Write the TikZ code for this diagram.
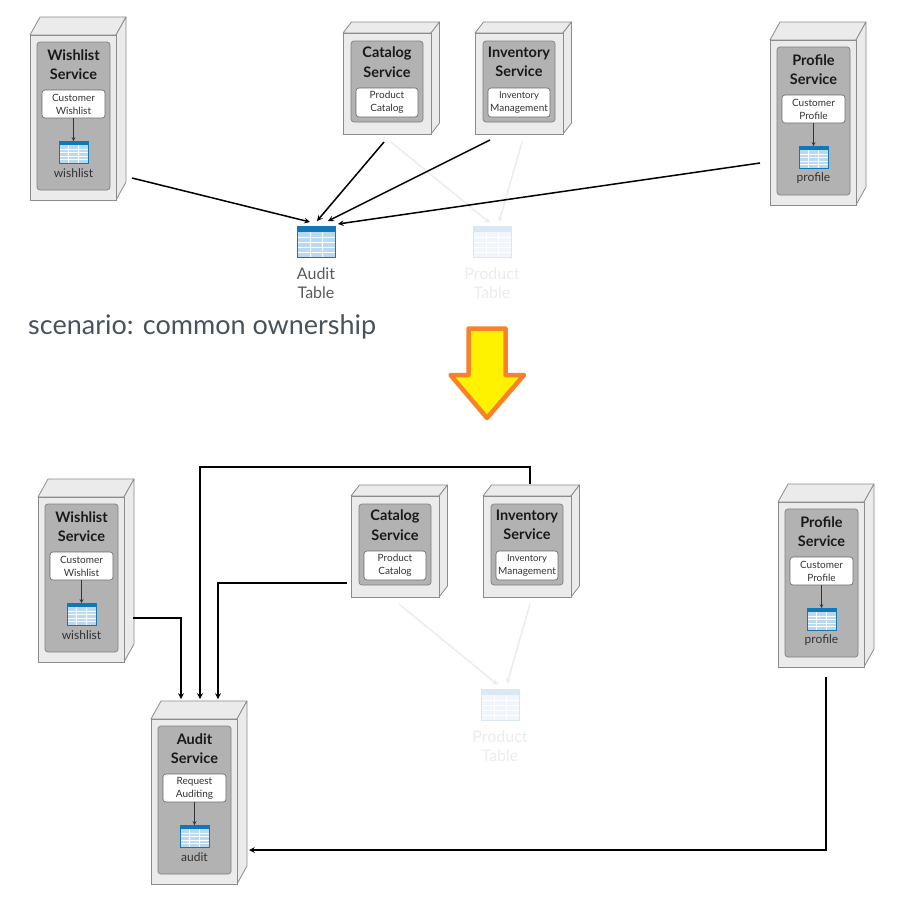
\documentclass[tikz,border=0pt]{standalone}
\usepackage{xcolor}
\usepackage{fontspec}
\setmainfont{Lato}
\usetikzlibrary{arrows,positioning,calc}
\definecolor{boxface}{RGB}{235,235,235}
\definecolor{boxedge}{RGB}{140,140,140}
\definecolor{innerface}{RGB}{178,178,178}
\definecolor{tableblue}{RGB}{15,120,184}
\definecolor{tablecell}{RGB}{185,218,238}
\definecolor{fadeblue}{RGB}{217,232,244}
\definecolor{fadecell}{RGB}{240,246,251}
\definecolor{fadeline}{RGB}{236,236,236}
\definecolor{captiongray}{RGB}{72,82,92}
\definecolor{arroworange}{RGB}{247,130,40}
\definecolor{arrowyellow}{RGB}{255,242,0}

\tikzset{
    shell/.style={rectangle, draw=boxedge, fill=boxface, line width=0.8pt, inner sep=0pt, outer sep=0pt, anchor=north west},
    inner/.style={rectangle, draw=gray, fill=innerface, line width=0.7pt, rounded corners=3pt, inner sep=0pt, outer sep=0pt, anchor=north west},
    module/.style={rectangle, draw=black!60, fill=white, line width=0.6pt, rounded corners=3pt, inner sep=0pt, outer sep=0pt, anchor=north west, align=center, font=\fontsize{10}{13}\selectfont, text=black!80},
    title/.style={align=center, font=\fontsize{14.5}{19.5}\selectfont\bfseries, text=black!90},
    small/.style={font=\fontsize{12}{13}\selectfont, text=black!80},
    tablebox/.style={rectangle, line width=0.8pt, inner sep=0pt, outer sep=0pt},
    link/.style={-stealth, draw=black, line width=1.5pt},
    fadelink/.style={-stealth, draw=fadeline, line width=1.5pt},
    minor/.style={-stealth, draw=black!80, line width=0.7pt},
    tablelabel/.style={align=center, font=\fontsize{16}{19}\selectfont}
}

% table icon: name, x, y, width, height, main colour, cell colour
\newcommand{\dbtable}[7]{
    \begin{scope}[shift={(#2,#3)}]
        \node[tablebox, draw=#6, fill=#7, minimum width=#4pt, minimum height=#5pt] (#1) at (#4/2,#5/2) {};
        \fill[#6] (0,0) rectangle (#4,#5*0.2);
        \foreach \r in {0.36,0.52,0.68,0.84}
            \draw[white, line width=0.8pt] (0.5,#5*\r) -- (#4-0.5,#5*\r);
        \foreach \c in {0.34,0.67}
            \draw[white, line width=0.8pt] (#4*\c,#5*0.2) -- (#4*\c,#5-0.5);
    \end{scope}
}

% sides of the box: width, height, depth x, depth y
\newcommand{\boxsides}[4]{
    \draw[boxedge, fill=boxface, line width=0.8pt, line join=round] (0,0) -- (#3,-#4) -- (#1+#3,-#4) -- (#1,0) -- cycle;
    \draw[boxedge, fill=boxface, line width=0.8pt, line join=round] (#1,0) -- (#1+#3,-#4) -- (#1+#3,#2-#4) -- (#1,#2) -- cycle;
}

% tall box: name, x, y, title, module text, table label
\newcommand{\tallservice}[6]{
    \begin{scope}[shift={(#2,#3)}]
        \boxsides{86}{165}{10}{18}
        \node[shell, minimum width=86pt, minimum height=165pt] (#1) at (0,0) {};
        \node[inner, minimum width=73pt, minimum height=148pt] (#1inner) at (7,7) {};
        \node[title] (#1title) at (43.5,29.5) {#4};
        \node[module, minimum width=63pt, minimum height=28pt] (#1module) at (12,55) {#5};
        \dbtable{#1tbl}{29}{106}{29}{22}{tableblue}{tablecell}
        \node[small] (#1label) at (43.5,138) {#6};
        \draw[minor] (#1module) -- (#1tbl);
    \end{scope}
}

% short box: name, x, y, title, module text
\newcommand{\shortservice}[5]{
    \begin{scope}[shift={(#2,#3)}]
        \boxsides{88}{101}{8.5}{11}
        \node[shell, minimum width=88pt, minimum height=101pt] (#1) at (0,0) {};
        \node[inner, minimum width=72pt, minimum height=81pt] (#1inner) at (8,8) {};
        \node[title] (#1title) at (44,29) {#4};
        \node[module, minimum width=62pt, minimum height=29pt] (#1module) at (13,55) {#5};
    \end{scope}
}

\begin{document}
\begin{tikzpicture}[x=1pt, y=-1pt]
    \useasboundingbox (0,0) rectangle (899,905);

    % before
    \tallservice{wishA}{30}{35}{Wishlist\\Service}{Customer\\Wishlist}{wishlist}
    \shortservice{catA}{343}{33}{Catalog\\Service}{Product\\Catalog}
    \shortservice{invA}{475}{33}{Inventory\\Service}{\fontsize{9.5}{13}\selectfont Inventory\\Management}
    \tallservice{profA}{770}{40}{Profile\\Service}{Customer\\Profile}{profile}

    \dbtable{auditTbl}{297}{226}{38}{31}{tableblue}{tablecell}
    \dbtable{prodTblA}{473}{226}{38}{31}{fadeblue}{fadecell}
    \node[tablelabel, text=black!65, below=7pt of auditTbl] (auditLabel) {Audit\\Table};
    \node[tablelabel, text=fadeline, below=7pt of prodTblA] (prodLabelA) {Product\\Table};

    \coordinate (wishOutA) at (132,178);
    \coordinate (catOutA) at (384,142);
    \coordinate (invOutA) at (490,140);
    \coordinate (profOutA) at (760,163);
    \coordinate (catFadeA) at (391,142);
    \coordinate (invFadeA) at (522,142);
    \coordinate (auditInA) at (310,222);
    \coordinate (auditInB) at (317,221);
    \coordinate (auditInC) at (328,221);
    \coordinate (auditInD) at (338,224);
    \coordinate (prodInA) at (490,223);
    \coordinate (prodInB) at (499,222);

    \draw[fadelink] (catFadeA) -- (prodInA);
    \draw[fadelink] (invFadeA) -- (prodInB);
    \draw[link] (wishOutA) -- (auditInA);
    \draw[link] (catOutA) -- (auditInB);
    \draw[link] (invOutA) -- (auditInC);
    \draw[link] (profOutA) -- (auditInD);

    \node[anchor=west, font=\fontsize{27}{30}\selectfont, text=captiongray, inner sep=0pt] (caption) at (28,327) {scenario: common ownership};

    % big arrow
    \draw[draw=arroworange, fill=arrowyellow, line width=4.5pt, line join=round]
        (468.5,328.5) -- (505.5,328.5) -- (505.5,375) -- (524,375) -- (487,418) -- (450.5,375) -- (468.5,375) -- cycle;

    % after
    \tallservice{wishB}{38}{497}{Wishlist\\Service}{Customer\\Wishlist}{wishlist}
    \shortservice{catB}{351}{496}{Catalog\\Service}{Product\\Catalog}
    \shortservice{invB}{483}{496}{Inventory\\Service}{\fontsize{9.5}{13}\selectfont Inventory\\Management}
    \tallservice{profB}{778}{502}{Profile\\Service}{Customer\\Profile}{profile}
    \tallservice{auditB}{151}{719}{Audit\\Service}{Request\\Auditing}{audit}

    \dbtable{prodTblB}{481}{689}{38}{31}{fadeblue}{fadecell}
    \node[tablelabel, text=fadeline, below=7pt of prodTblB] (prodLabelB) {Product\\Table};

    \coordinate (wishOutB) at (133,618);
    \coordinate (catOutB) at (347,583);
    \coordinate (invOutB) at (530,484);
    \coordinate (invTopB) at (530,467);
    \coordinate (profOutB) at (826,677);
    \coordinate (auditWish) at (181,699);
    \coordinate (auditInv) at (200,699);
    \coordinate (auditCat) at (218,699);
    \coordinate (auditProf) at (249,850);
    \coordinate (catFadeB) at (399,604);
    \coordinate (invFadeB) at (530,604);
    \coordinate (prodInC) at (498,685);
    \coordinate (prodInD) at (507,684);

    \draw[fadelink] (catFadeB) -- (prodInC);
    \draw[fadelink] (invFadeB) -- (prodInD);
    \draw[link] (wishOutB) -| (auditWish);
    \draw[link] (invOutB) -- (invTopB) -| (auditInv);
    \draw[link] (catOutB) -| (auditCat);
    \draw[link] (profOutB) |- (auditProf);
\end{tikzpicture}
\end{document}
